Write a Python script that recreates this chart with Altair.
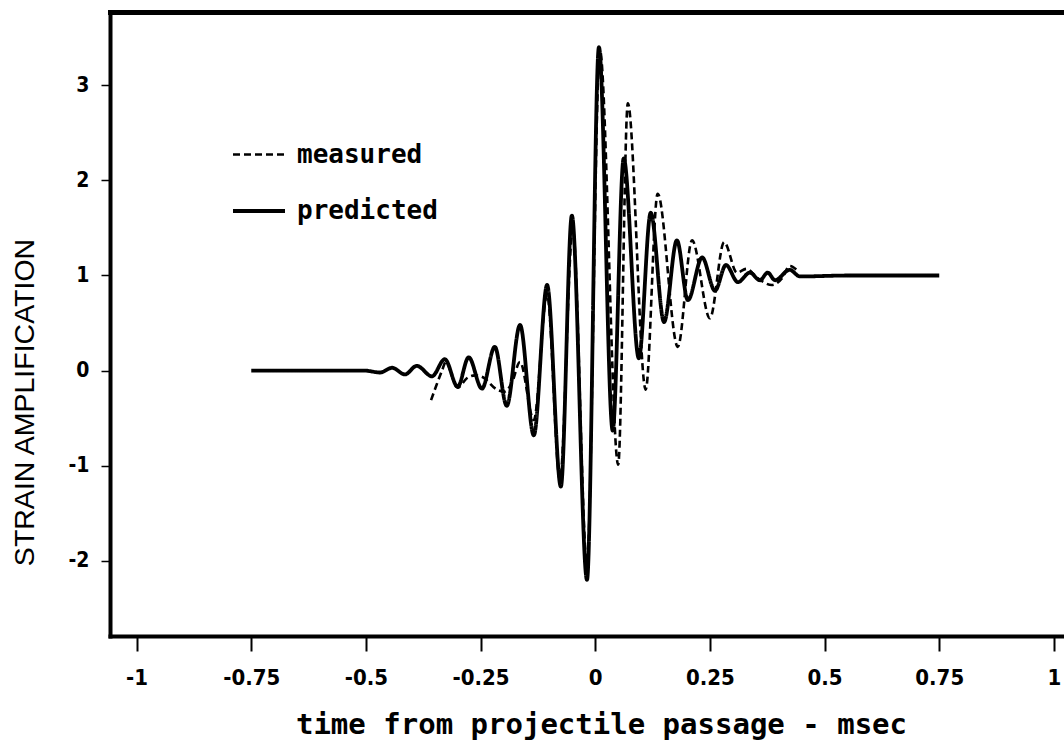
import altair as alt
import pandas as pd

# predicted (solid) curve: time in msec, strain amplification
pred_t = [-0.75, -0.64, -0.557, -0.503, -0.469, -0.443, -0.415, -0.389, -0.356, -0.328,
          -0.300, -0.276, -0.247, -0.219, -0.193, -0.164, -0.134, -0.105, -0.075, -0.051,
          -0.018, 0.008, 0.038, 0.062, 0.095, 0.121, 0.150, 0.178, 0.202, 0.233,
          0.261, 0.285, 0.311, 0.337, 0.359, 0.376, 0.392, 0.424, 0.446, 0.555, 0.75]
pred_v = [0.0, 0.0, 0.0, 0.0, -0.02, 0.03, -0.04, 0.05, -0.06, 0.12,
          -0.17, 0.14, -0.19, 0.25, -0.37, 0.48, -0.68, 0.90, -1.22, 1.63,
          -2.20, 3.40, -0.63, 2.23, 0.13, 1.66, 0.51, 1.37, 0.74, 1.19,
          0.84, 1.11, 0.93, 1.03, 0.95, 1.03, 0.95, 1.06, 0.99, 1.0, 1.0]

# measured (dashed) curve
meas_t = [-0.358, -0.334, -0.326, -0.300, -0.280, -0.262, -0.245, -0.214, -0.197, -0.182,
          -0.164, -0.134, -0.105, -0.077, -0.049, -0.018, 0.010, 0.050, 0.071, 0.110,
          0.136, 0.180, 0.211, 0.250, 0.281, 0.309, 0.330, 0.352, 0.385, 0.407,
          0.424, 0.439]
meas_v = [-0.31, 0.0, 0.09, -0.18, -0.08, -0.05, -0.07, -0.20, -0.22, -0.13,
          0.09, -0.52, 0.80, -1.15, 1.49, -2.03, 3.37, -0.99, 2.81, -0.20,
          1.86, 0.25, 1.37, 0.55, 1.35, 1.03, 1.07, 0.98, 0.90, 0.97,
          1.10, 1.06]

series_names = ["measured", "predicted"]
x_ticks = [-1, -0.75, -0.5, -0.25, 0, 0.25, 0.5, 0.75, 1]
y_ticks = [-2, -1, 0, 1, 2, 3]

df = pd.concat([
    pd.DataFrame({"t": meas_t, "v": meas_v, "series": "measured",
                  "order": list(range(len(meas_t)))}),
    pd.DataFrame({"t": pred_t, "v": pred_v, "series": "predicted",
                  "order": list(range(len(pred_t)))}),
], ignore_index=True)

xscale = alt.Scale(domain=[-1.058, 1.022], nice=False, zero=False)
yscale = alt.Scale(domain=[-2.79, 3.77], nice=False, zero=False)

tick_font = "DejaVu Sans Condensed, Liberation Sans Narrow, DejaVu Sans"
mono = "DejaVu Sans Mono"

y_axis = alt.Axis(orient="left", values=y_ticks, grid=False,
                  labelExpr="toString(datum.value)",
                  tickSize=9, tickWidth=1.5, tickColor="black",
                  domainWidth=4, domainColor="black", domainCap="square",
                  labelFont=tick_font, labelFontWeight="bold", labelFontSize=21,
                  labelColor="black", labelPadding=12, labelOverlap=False,
                  title="STRAIN AMPLIFICATION",
                  titleFont="Liberation Sans", titleFontWeight="normal",
                  titleFontSize=28.5, titleColor="black",
                  titleX=-77, titleY=390, titleBaseline="alphabetic")

lines = alt.Chart(df).mark_line(interpolate="monotone", color="black").encode(
    x=alt.X("t:Q", scale=xscale,
            axis=alt.Axis(orient="bottom", values=x_ticks, grid=False,
                          labelExpr="toString(datum.value)",
                          tickSize=15, tickWidth=2, tickColor="black",
                          domainWidth=4, domainColor="black", domainCap="square",
                          labelFont=tick_font, labelFontWeight="bold", labelFontSize=22,
                          labelColor="black", labelPadding=16, labelFlush=False,
                          labelOverlap=False,
                          title="time from projectile passage - msec",
                          titleFont=mono, titleFontWeight="bold", titleFontSize=29,
                          titleColor="black", titleX=491, titleY=97,
                          titleBaseline="alphabetic")),
    y=alt.Y("v:Q", scale=yscale, axis=y_axis),
    strokeDash=alt.StrokeDash("series:N",
                              scale=alt.Scale(domain=series_names, range=[[7, 4], [1, 0]]),
                              legend=alt.Legend(title=None, orient="none",
                                                legendX=121, legendY=115,
                                                symbolType="stroke", symbolSize=2704,
                                                symbolStrokeWidth=3.5,
                                                symbolStrokeColor="black",
                                                labelFont=mono, labelFontWeight="bold",
                                                labelFontSize=26, labelColor="black",
                                                labelOffset=10, rowPadding=15,
                                                padding=0)),
    strokeWidth=alt.StrokeWidth("series:N",
                                scale=alt.Scale(domain=series_names, range=[2.6, 3.8]),
                                legend=None),
    order="order:Q",
)

top_frame = alt.Chart(df).mark_line(opacity=0).encode(
    x=alt.X("t:Q", scale=xscale,
            axis=alt.Axis(orient="top", labels=False, ticks=False, grid=False,
                          domainWidth=5, domainColor="black", domainCap="square",
                          title=None)),
    y=alt.Y("v:Q", scale=yscale, axis=y_axis),
)

chart = alt.layer(lines, top_frame).resolve_axis(x="independent").properties(
    width=954, height=624,
    autosize=alt.AutoSizeParams(type="none"),
    padding={"left": 110, "top": 12, "right": 0, "bottom": 107},
    background="white",
).configure_view(stroke=None)

chart.save("out.html", embed_options={"renderer": "svg", "actions": False})
